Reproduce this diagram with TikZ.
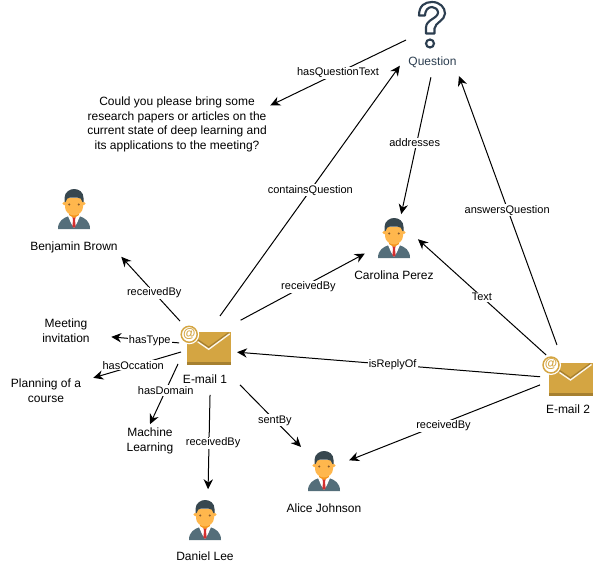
\documentclass[tikz,border=0pt]{standalone}
\usepackage{fontspec}
\setmainfont{Liberation Sans}
\definecolor{mailgold}{RGB}{212,165,66}
\definecolor{maildark}{RGB}{166,128,48}
\definecolor{suitgrey}{RGB}{84,110,122}
\definecolor{hairdark}{RGB}{55,71,79}
\definecolor{skinorange}{RGB}{255,183,77}
\definecolor{neckorange}{RGB}{245,150,30}
\definecolor{tiered}{RGB}{211,47,47}
\definecolor{markslate}{RGB}{44,62,80}
\usetikzlibrary{arrows.meta}
\begin{document}
\begin{tikzpicture}[
  x=0.75pt, y=-0.75pt,
  txt/.style={font=\fontsize{9}{10.9}\selectfont, align=center, inner sep=0pt},
  rel/.style={-{Stealth[length=7.5pt,width=7pt]}, line width=0.75pt, black},
  lab/.style={font=\fontsize{8.25}{10}\selectfont, fill=white, inner sep=0.8pt},
  hub/.style={circle, inner sep=0pt, outer sep=0pt, minimum size=40.5pt},
  face/.style={circle, inner sep=0pt, outer sep=0pt, minimum size=36pt},
  mailicon/.pic={
    \fill[mailgold] (-22,-16.5) rectangle (22,16.5);
    \fill[maildark] (-22,14) rectangle (22,16.5);
    \draw[maildark, line width=1pt] (-11,-8.5) -- (0,-1) -- (20,-15.5);
    \draw[white!90!mailgold, line width=1pt] (-11,-6.5) -- (0,1) -- (21,-14.5);
    \fill[white] (-19.5,-14) circle[radius=10];
    \draw[mailgold, line width=1.1pt] (-19.5,-14) circle[radius=8];
    \node[mailgold, inner sep=0pt, font=\fontsize{9.5}{10}\selectfont\bfseries] (-at) at (-19.5,-14.5) {@};
  },
  personicon/.pic={
    \fill[suitgrey] (-16,20) .. controls (-16,12) and (-11,9) .. (-5,7) -- (5,7) .. controls (11,9) and (16,12) .. (16,20) -- cycle;
    \fill[white] (-6,7) -- (6,7) -- (3,14) -- (0,19) -- (-3,14) -- cycle;
    \fill[tiered] (-1.6,8) -- (1.6,8) -- (1,11) -- (1.6,17) -- (0,19) -- (-1.6,17) -- (-1,11) -- cycle;
    \fill[neckorange] (-5,2) rectangle (5,6);
    \fill[neckorange] (-5,6) -- (5,6) -- (0,9) -- cycle;
    \fill[skinorange!90!neckorange] (-9.8,-5.5) circle[radius=1.8];
    \fill[skinorange!90!neckorange] (9.8,-5.5) circle[radius=1.8];
    \fill[skinorange] (-9,-11) -- (9,-11) -- (9,-2) .. controls (9,3) and (4,6.5) .. (0,6.5) .. controls (-4,6.5) and (-9,3) .. (-9,-2) -- cycle;
    \fill[hairdark] (-9.5,-7) -- (-9.5,-11) .. controls (-9.5,-17) and (-4,-20) .. (0,-20) .. controls (5,-20) and (9.5,-17) .. (9.5,-11) -- (9.5,-7) -- (8.5,-7) .. controls (8,-10) and (6,-11.5) .. (3,-11.5) -- (-4,-11.5) .. controls (-6,-11.5) and (-8,-10) .. (-8.5,-7) -- cycle;
    \fill[brown!70!black] (-4.7,-4.5) circle[radius=1.1];
    \fill[brown!70!black] (4.7,-4.5) circle[radius=1.1];
  },
  questionicon/.pic={
    \draw[markslate, line width=1.6pt, line join=round] (-11,-10) .. controls (-11,-20) and (-5,-23.5) .. (2,-23.5)
      .. controls (10,-23.5) and (15,-18) .. (15,-12) .. controls (15,-5) and (5,-3) .. (4.5,3)
      -- (4.5,8) -- (-4,8) -- (-4,2) .. controls (-4,-6) and (8,-7) .. (8,-13)
      .. controls (8,-16) and (5,-18.5) .. (2,-18.5) .. controls (-2,-18.5) and (-5,-15) .. (-5,-10) -- cycle;
    \draw[markslate, line width=1.6pt] (0,18) circle[radius=4];
  }
]
\useasboundingbox (0,0) rectangle (593,564);

\pic at (208.7,348.3) {mailicon};
\pic at (570.5,379) {mailicon};
\pic at (430,25.5) {questionicon};
\pic at (74,209) {personicon};
\pic at (394,238) {personicon};
\pic at (324,471) {personicon};
\pic at (205,520) {personicon};

\node[hub] (mailA) at (208,352) {};
\node[hub] (mailB) at (571,378) {};
\node[hub, minimum size=37.5pt] (qmark) at (431,40) {};
\node[face] (carolina) at (394,238) {};
\node[face] (alice) at (324,470) {};
\node[face] (daniel) at (205,520) {};

\node[txt] (mailAtext) at (205,379) {E-mail 1};
\node[txt] (mailBtext) at (568,409) {E-mail 2};
\node[txt, markslate] (qlabel) at (432.5,62.5) {Question};
\node[txt] (carolinatext) at (394,275) {Carolina Perez};
\node[txt] (alicetext) at (324,508) {Alice Johnson};
\node[txt] (danieltext) at (205,556) {Daniel Lee};
\node[txt, minimum width=70.5pt, minimum height=13.5pt] (benjamin) at (74,247.5) {Benjamin Brown};
\node[txt, minimum width=67.5pt, minimum height=27pt] (meeting) at (66,330.5) {Meeting\\invitation};
\node[txt, minimum width=70.5pt, minimum height=30pt] (planning) at (46,390.5) {Planning of a\\course};
\node[txt, minimum height=24.75pt] (machine) at (150,441) {Machine\\Learning};
\node[txt, minimum width=135pt, minimum height=45pt] (qtext) at (177,124.5) {Could you please bring some\\research papers or articles on the\\current state of deep learning and\\its applications to the meeting?};

\draw[rel, shorten <=11pt] (mailA.132) -- node[lab, pos=0.52] {receivedBy} (benjamin.south east);
\draw[rel, shorten <=8.8pt, shorten >=12.2pt] (mailA.79) -- node[lab, pos=0.495] {containsQuestion} (qmark.210.8);
\draw[rel, shorten <=14.9pt, shorten >=6.8pt] (mailA.56) -- node[lab, pos=0.57, yshift=-2.2pt] {receivedBy} (carolina.208.9);
\draw[rel, shorten <=2.5pt] (mailA.161) -- node[lab, pos=0.46] {hasType} (meeting.352.4);
\draw[rel] (mailA.180) -- node[lab, pos=0.545, yshift=0.6pt] {hasOccation} (planning.15.5);
\draw[rel, shorten <=6pt] (mailA.190) -- node[lab, pos=0.5] {hasDomain} (machine.north);
\draw[rel, shorten <=12pt, shorten >=5.2pt] (mailA.275) -- node[lab, pos=0.53, xshift=3pt, yshift=-1.5pt] {receivedBy} (daniel.83);
\draw[rel, shorten <=14.2pt, shorten >=6.4pt] (mailA.314) -- node[lab, pos=0.6] {sentBy} (alice.135);
\draw[rel, shorten <=3pt, shorten >=1.5pt] (mailB.178.5) -- node[lab, pos=0.49] {isReplyOf} (mailA.0.4);
\draw[rel, shorten <=3.6pt, shorten >=2.2pt] (mailB.191) -- node[lab, pos=0.51, yshift=-2pt] {receivedBy} (alice.21.8);
\draw[rel, shorten <=5.2pt] (mailB.137.5) -- node[lab, pos=0.52] {Text} (carolina.357.6);
\draw[rel, shorten <=6.7pt, shorten >=17pt] (mailB.114) -- node[lab, pos=0.486, yshift=-1.5pt] {answersQuestion} (qmark.324);
\draw[rel, shorten <=9.5pt, shorten >=0.7pt] (qmark.276.5) -- node[lab, pos=0.52, xshift=-1.5pt] {addresses} (carolina.73.3);
\draw[rel, shorten >=2.5pt] (qmark.180) -- node[lab, pos=0.49] {hasQuestionText} (qtext.11.7);
\end{tikzpicture}
\end{document}
